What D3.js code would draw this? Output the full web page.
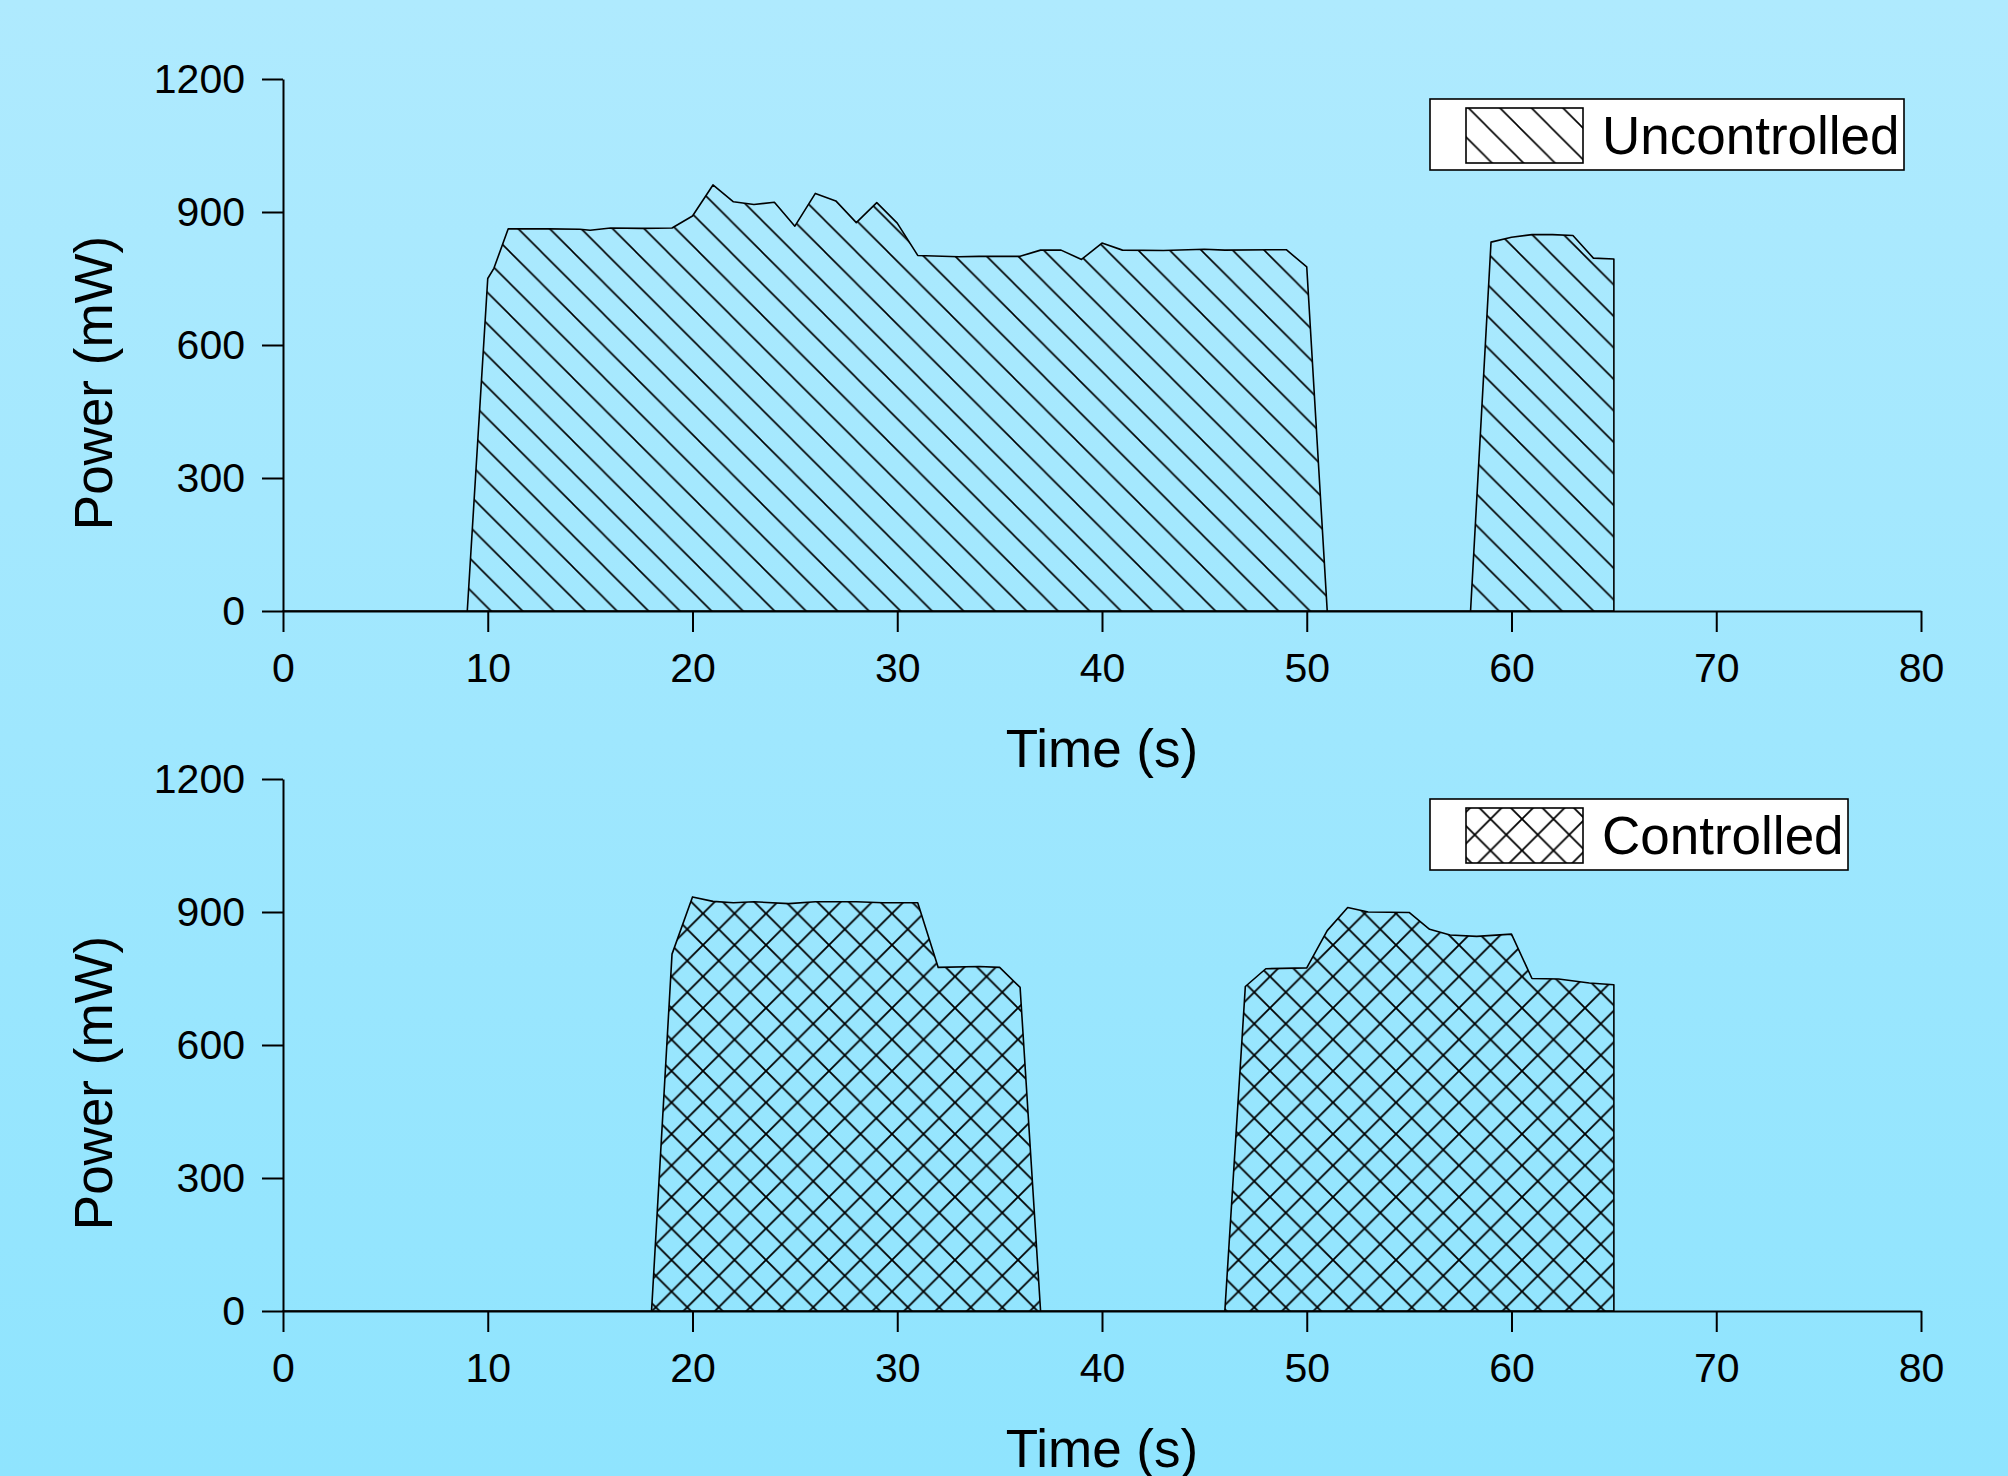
<!DOCTYPE html>
<meta charset="utf-8">
<style>
body { margin: 0; }
text { font-family: "Liberation Sans", Arial, sans-serif; fill: #000; }
.axis path, .axis line { stroke: #000; stroke-width: 2px; }
.axis text { font-size: 41px; font-family: "Liberation Sans", Arial, sans-serif; }
.area { stroke: #000; stroke-width: 1.6px; stroke-linejoin: round; }
</style>
<svg width="2008" height="1476"></svg>
<script src="https://d3js.org/d3.v7.min.js"></script>
<script>
// uncontrolled run
var uncTime  = [0, 9, 10, 10.3, 11, 13, 14.5, 15, 16, 17.5, 19, 20, 21, 22, 23, 24, 25, 26, 27, 28, 29, 30, 31, 33, 34, 36, 37, 38, 39, 40, 41, 43, 45, 46, 49, 50, 51, 58, 59, 60, 61, 62, 63, 64, 65, 65];
var uncPower = [0, 0, 750, 773, 862, 862, 861, 859, 864, 863, 864, 891, 961, 923, 917, 922, 868, 942, 925, 876, 921, 875, 802, 799, 800, 800, 814, 814, 793, 830, 814, 813, 816, 814, 815, 776, 0, 0, 832, 843, 849, 849, 847, 796, 794, 0];

// controlled run
var ctlTime  = [0, 18, 19, 20, 21, 22, 23, 24.7, 26, 28, 29.3, 31, 32, 34, 35, 36, 37, 46, 47, 48, 50, 51, 52, 53, 55, 56, 57, 58.3, 60, 61, 62.3, 63.8, 65, 65];
var ctlPower = [0, 0, 805, 934, 924, 921, 923, 919, 923, 923, 921, 921, 775, 777, 775, 730, 0, 0, 732, 772, 774, 858, 910, 900, 899, 861, 848, 845, 850, 750, 749, 740, 736, 0];

var xTicks = [0, 10, 20, 30, 40, 50, 60, 70, 80];
var yTicks = [0, 300, 600, 900, 1200];

var svg = d3.select("svg"),
    width = +svg.attr("width"),
    height = +svg.attr("height");

var defs = svg.append("defs");
var bg = defs.append("linearGradient").attr("id", "bg")
    .attr("x1", 0).attr("y1", 0).attr("x2", 0).attr("y2", 1);
bg.append("stop").attr("offset", "0%").attr("stop-color", "#afeafe");
bg.append("stop").attr("offset", "100%").attr("stop-color", "#8fe4fe");

svg.append("rect").attr("width", width).attr("height", height).attr("fill", "url(#bg)");

var s = 31.5;
function hatch(id, cross, sw, ox) {
  var p = defs.append("pattern").attr("id", id)
      .attr("patternUnits", "userSpaceOnUse")
      .attr("x", ox).attr("y", 0)
      .attr("width", s).attr("height", s);
  var d = "M0,0L" + s + "," + s + "M-2," + (s - 2) + "L2," + (s + 2) + "M" + (s - 2) + ",-2L" + (s + 2) + ",2";
  if (cross) d += "M0," + s + "L" + s + ",0M-2,2L2,-2M" + (s - 2) + "," + (s + 2) + "L" + (s + 2) + "," + (s - 2);
  p.append("path").attr("d", d).attr("stroke", "#000").attr("stroke-width", sw).attr("fill", "none");
}
hatch("hatchU", false, 1.6, 6);
hatch("hatchC", true, 1.8, 10);

var x = d3.scaleLinear().domain([0, 80]).range([283, 1921]);

function panel(top, time, power, patId, label, legW) {
  var y = d3.scaleLinear().domain([0, 1200]).range([top + 532, top]);
  var data = time.map(function(t, i) { return [t, power[i]]; });

  var area = d3.area()
      .x(function(d) { return x(d[0]); })
      .y0(y(0))
      .y1(function(d) { return y(d[1]); });

  svg.append("path").datum(data)
      .attr("class", "area")
      .attr("fill", "url(#" + patId + ")")
      .attr("d", area);

  svg.append("g").attr("class", "axis")
      .attr("transform", "translate(0," + y(0) + ")")
      .call(d3.axisBottom(x).tickValues(xTicks).tickFormat(d3.format("d"))
        .tickSize(21).tickSizeOuter(0).tickPadding(21))
      .call(function(g) { g.select(".domain").attr("stroke-width", 2.4); });

  svg.append("g").attr("class", "axis")
      .attr("transform", "translate(" + x(0) + ",0)")
      .call(d3.axisLeft(y).tickValues(yTicks).tickFormat(d3.format("d"))
        .tickSize(21).tickSizeOuter(0).tickPadding(17));

  svg.append("text")
      .attr("x", (x(0) + x(80)) / 2).attr("y", y(0) + 156)
      .attr("text-anchor", "middle").attr("font-size", 53)
      .text("Time (s)");

  svg.append("text")
      .attr("transform", "translate(112," + (top + 304) + ") rotate(-90)")
      .attr("text-anchor", "middle").attr("font-size", 53)
      .text("Power (mW)");

  // legend
  var lg = svg.append("g");
  lg.append("rect").attr("x", 1430).attr("y", top + 20).attr("width", legW).attr("height", 71)
      .attr("fill", "#fff").attr("stroke", "#000").attr("stroke-width", 1.6);
  lg.append("rect").attr("x", 1466).attr("y", top + 29).attr("width", 117).attr("height", 55)
      .attr("fill", "#fff");
  lg.append("rect").attr("x", 1466).attr("y", top + 29).attr("width", 117).attr("height", 55)
      .attr("fill", "url(#" + patId + ")").attr("stroke", "#000").attr("stroke-width", 1.6);
  lg.append("text").attr("x", 1602).attr("y", top + 75).attr("font-size", 53).text(label);
}

panel(79, uncTime, uncPower, "hatchU", "Uncontrolled", 474);
panel(779, ctlTime, ctlPower, "hatchC", "Controlled", 418);
</script>
